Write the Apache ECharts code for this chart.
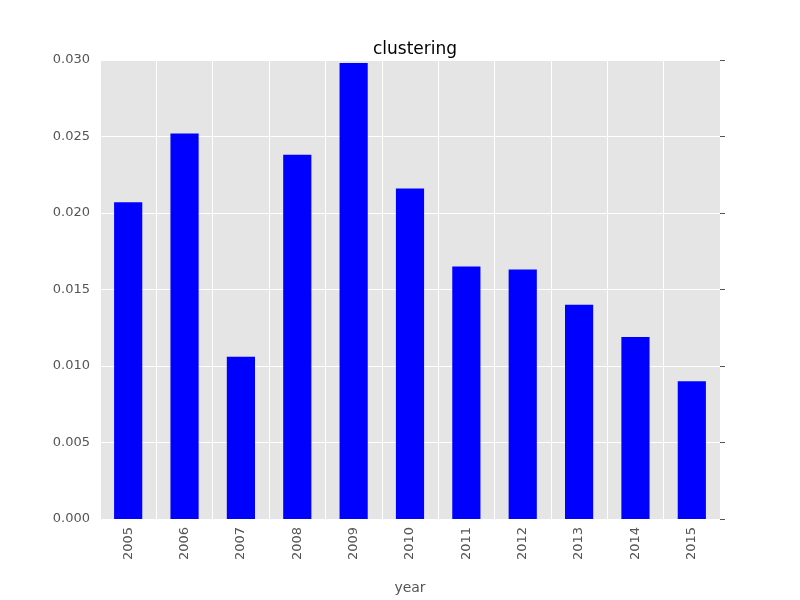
<!DOCTYPE html>
<html><head><meta charset="utf-8">
<script src="https://cdn.jsdelivr.net/npm/echarts@6/dist/echarts.min.js"></script>
<style>html,body{margin:0;background:#fff}#c{width:800px;height:600px}</style>
</head><body><div id="c"></div>
<script>
var years = ['2005','2006','2007','2008','2009','2010','2011','2012','2013','2014','2015'];
var clustering = [0.0207,0.0252,0.0106,0.0238,0.0298,0.0216,0.0165,0.0163,0.0140,0.0119,0.0090];

var chart = echarts.init(document.getElementById('c'));
var font = 'DejaVu Sans';
chart.setOption({
  animation: false,
  title: { text: 'clustering', left: 410, top: 36, textAlign: 'center',
    textStyle: { fontFamily: font, fontSize: 17, fontWeight: 'normal', color: '#000' } },
  grid: { left: 100, right: 80, top: 60, bottom: 60, backgroundColor: '#e5e5e5', show: true, borderWidth: 0 },
  xAxis: [{
    type: 'category', data: years, name: 'year', nameLocation: 'middle', nameGap: 62,
    nameTextStyle: { fontFamily: font, fontSize: 14, color: '#555' },
    axisLine: { show: false },
    axisTick: { show: false },
    axisLabel: { rotate: 90, fontFamily: font, fontSize: 13, color: '#555', margin: 8 },
    splitLine: { show: true, interval: 0, lineStyle: { color: '#fff' } }
  }, {
    type: 'category', data: years, position: 'top',
    axisLine: { show: false }, axisLabel: { show: false },
    axisTick: { show: true, alignWithLabel: true, inside: false, length: 5, lineStyle: { color: '#555' } }
  }],
  yAxis: [{
    type: 'value', min: 0, max: 0.03, interval: 0.005,
    axisLine: { show: false }, axisTick: { show: false },
    axisLabel: { fontFamily: font, fontSize: 13, color: '#555', margin: 10,
      formatter: function (v) { return v.toFixed(3); } },
    splitLine: { lineStyle: { color: '#fff' } }
  }, {
    type: 'value', min: 0, max: 0.03, interval: 0.005, position: 'right',
    axisLine: { show: false }, axisLabel: { show: false }, splitLine: { show: false },
    axisTick: { show: true, length: 5, lineStyle: { color: '#555' } }
  }],
  series: [{
    type: 'bar', data: clustering, barCategoryGap: '50%',
    itemStyle: { color: '#0000ff' }
  }]
});
</script></body></html>
